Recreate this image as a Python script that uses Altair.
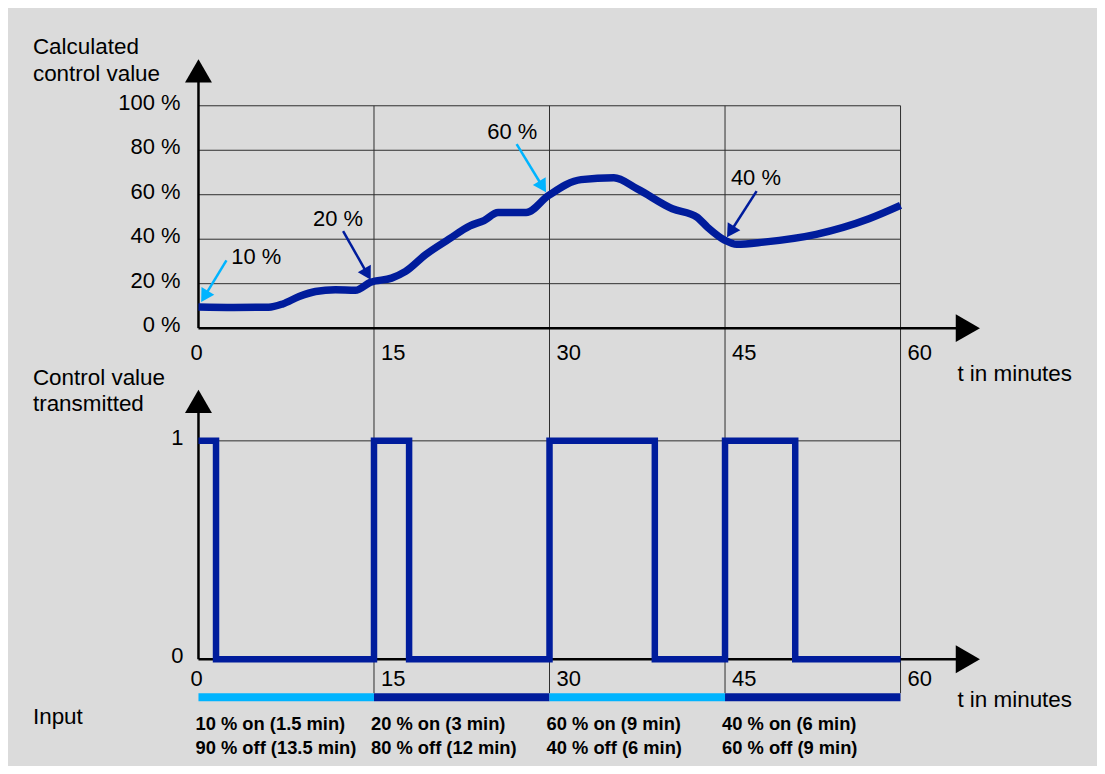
import math
import altair as alt
import pandas as pd

# ---------------- data ----------------
curve_t = [0, 3, 6, 7.2, 8.6, 10, 11.7, 13.4, 14.7, 16.5, 17.7, 19.4, 21.4, 23.2, 24.4, 25.6,
           28, 29.9, 32.7, 35.5, 37.5, 40.5, 42.6, 43.5, 45, 46, 48.3, 52.8, 57.3, 60]
curve_v = [9.5, 9.3, 9.4, 10.9, 14.2, 16.5, 17.3, 17.0, 20.6, 22.5, 25.5, 33, 40, 46, 48.4, 52,
           52, 59.6, 66.8, 67.6, 62.6, 53.7, 49.9, 45.4, 39.5, 37.7, 38.7, 42.2, 49.2, 55.2]

y_ticks = [0, 20, 40, 60, 80, 100]
x_ticks = [0, 15, 30, 45, 60]

seg_start = [0, 15, 30, 45]
seg_end = [15, 30, 45, 60]
seg_pct = [10, 20, 60, 40]
on_min = [1.5, 3, 9, 6]
off_min = [13.5, 12, 6, 9]
seg_shade = ["light", "dark", "light", "dark"]

arrow_labels = ["10 %", "20 %", "60 %", "40 %"]
arrow_from_t = [2.39, 12.36, 27.19, 47.7]
arrow_from_v = [30.5, 43.6, 82.8, 61.6]
arrow_to_t = [0.23, 14.72, 29.7, 45.17]
arrow_to_v = [11.8, 21.8, 61.1, 40.9]
label_t = [4.94, 11.93, 26.82, 47.64]
label_v = [32.1, 49.1, 88.3, 67.5]

# ---------------- layout / style ----------------
FONT = "Liberation Sans"
INK = "#000000"
GRID = "#2e2e2e"
DARK = "#001c9c"
LIGHT = "#00b4ff"
BG = "#dbdbdb"
SHADE = {"light": LIGHT, "dark": DARK}

W, H = 704, 555            # plot area: t 0..60, from 100 % line down to lower zero line
X0, Y0 = 199, 105          # page pixel of plot origin (top-left)
PX_MIN = W / 60.0
TOP_ZERO_Y = 328           # page y of 0 %
TOP_PX = (TOP_ZERO_Y - Y0) / 100.0
BOT_ZERO_Y = Y0 + H        # page y of lower 0
BOT_PX = 219.0
TOP_DOMAIN = [-(BOT_ZERO_Y - TOP_ZERO_Y) / TOP_PX, 100]
BOT_DOMAIN = [0, H / BOT_PX]

TICK_FS = 22
TITLE_FS = 22.5
ANNOT_FS = 22
INPUT_FS = 18.4
HEAD_W = 15
AX_W = 2.5


def t_at(px):
    return (px - X0) / PX_MIN


def v_at(py):
    return (TOP_ZERO_Y - py) / TOP_PX


def b_at(py):
    return (BOT_ZERO_Y - py) / BOT_PX


XS = alt.Scale(domain=[0, 60], nice=False, zero=False)
YT = alt.Scale(domain=TOP_DOMAIN, nice=False, zero=False)
YB = alt.Scale(domain=BOT_DOMAIN, nice=False, zero=False)


def X(f):
    return alt.X(f, type="quantitative", scale=XS, axis=None)


def Yt(f):
    return alt.Y(f, type="quantitative", scale=YT, axis=None)


def Yb(f):
    return alt.Y(f, type="quantitative", scale=YB, axis=None)


def texts(df, yenc, align="left", dx=0, dy=0, size=TICK_FS, weight="normal"):
    return alt.Chart(df).mark_text(font=FONT, fontSize=size, fontWeight=weight, align=align,
                                   baseline="middle", dx=dx, dy=dy, color=INK).encode(
        x=X("t"), y=yenc("y"), text="label:N")


def fmt(x):
    return f"{x:g}"


# ---------------- arrows on the curve ----------------
rows = []
for i in range(4):
    p0 = (arrow_from_t[i] * PX_MIN, -arrow_from_v[i] * TOP_PX)
    p1 = (arrow_to_t[i] * PX_MIN, -arrow_to_v[i] * TOP_PX)
    dx, dy = p1[0] - p0[0], p1[1] - p0[1]
    L = math.hypot(dx, dy)
    ux, uy = dx / L, dy / L
    ang = math.degrees(math.atan2(ux, -uy)) % 360
    hc = (p1[0] - ux * HEAD_W * 0.433, p1[1] - uy * HEAD_W * 0.433)
    rows.append({"t0": arrow_from_t[i], "v0": arrow_from_v[i],
                 "t1": hc[0] / PX_MIN, "v1": -hc[1] / TOP_PX,
                 "angle": ang, "color": SHADE[seg_shade[i]]})
arrows = pd.DataFrame(rows)

# ---------------- lower panel (drawn first) ----------------
vgrid = pd.DataFrame({"t": x_ticks[1:], "b0": BOT_DOMAIN[1], "b1": 0})
l_vgrid = alt.Chart(vgrid).mark_rule(color=GRID, strokeWidth=1, y2Offset=34).encode(
    x=X("t"), y=Yb("b0"), y2=alt.Y2("b1"))

l_hgrid_b = alt.Chart(pd.DataFrame({"b": [1]})).mark_rule(color=GRID, strokeWidth=1).encode(y=Yb("b"))

l_bax_y = alt.Chart(pd.DataFrame({"t": [0], "b0": [0], "b1": [1.13]})).mark_rule(
    color=INK, strokeWidth=AX_W).encode(x=X("t"), y=Yb("b0"), y2=alt.Y2("b1"))
l_bax_x = alt.Chart(pd.DataFrame({"t0": [0], "t1": [65], "b": [0]})).mark_rule(
    color=INK, strokeWidth=AX_W).encode(x=X("t0"), x2=alt.X2("t1"), y=Yb("b"))
l_bhead_y = alt.Chart(pd.DataFrame({"t": [0], "b": [b_at(401.5)]})).mark_point(
    shape="triangle-up", filled=True, size=729, opacity=1, color=INK, strokeWidth=0).encode(
    x=X("t"), y=Yb("b"))
l_bhead_x = alt.Chart(pd.DataFrame({"t": [t_at(970.5)], "b": [0]})).mark_point(
    shape="triangle-right", filled=True, size=784, opacity=1, color=INK, strokeWidth=0).encode(
    x=X("t"), y=Yb("b"))

pulse_t, pulse_val = [], []
for s, on in zip(seg_start, on_min):
    pulse_t += [s, s + on]
    pulse_val += [1, 0]
pulse_t.append(60)
pulse_val.append(0)
l_pulse = alt.Chart(pd.DataFrame({"t": pulse_t, "b": pulse_val})).mark_line(
    interpolate="step-after", color=DARK, strokeWidth=6.5, strokeJoin="miter").encode(
    x=X("t"), y=Yb("b"))

inp = pd.DataFrame({"t0": seg_start, "t1": seg_end, "b": 0,
                    "color": [SHADE[s] for s in seg_shade]})
l_input = alt.Chart(inp).mark_rule(strokeWidth=8, yOffset=38).encode(
    x=X("t0"), x2=alt.X2("t1"), y=Yb("b"), color=alt.Color("color:N", scale=None))

line1 = pd.DataFrame({"t": seg_start, "y": b_at(725),
                      "label": [f"{p} % on ({fmt(o)} min)" for p, o in zip(seg_pct, on_min)]})
line2 = pd.DataFrame({"t": seg_start, "y": b_at(749),
                      "label": [f"{100 - p} % off ({fmt(o)} min)" for p, o in zip(seg_pct, off_min)]})
l_in1 = texts(line1, Yb, dx=-3, size=INPUT_FS, weight="bold")
l_in2 = texts(line2, Yb, dx=-3, size=INPUT_FS, weight="bold")

bt = pd.DataFrame({"t": x_ticks, "y": b_at(680), "label": [str(x) for x in x_ticks]})
l_bt0 = texts(bt.iloc[:1], Yb, align="center", dx=-2)
l_bt = texts(bt.iloc[1:], Yb, align="left", dx=7)
byl = pd.DataFrame({"t": [0, 0], "y": [1, 0], "label": ["1", "0"]})
l_byl = texts(byl, Yb, align="right", dx=-15, dy=-3)
btitles = pd.DataFrame({"t": [t_at(33)] * 3 + [t_at(960)],
                        "y": [b_at(378), b_at(404), b_at(718), b_at(701)],
                        "label": ["Control value", "transmitted", "Input", "t in minutes"]})
l_btitles = texts(btitles, Yb, size=TITLE_FS)

bottom = alt.layer(l_vgrid, l_hgrid_b, l_bax_x, l_bax_y, l_bhead_y, l_bhead_x, l_pulse, l_input,
                   l_in1, l_in2, l_bt0, l_bt, l_byl, l_btitles)

# ---------------- upper panel ----------------
t_hgrid = alt.Chart(pd.DataFrame({"v": y_ticks[1:]})).mark_rule(color=GRID, strokeWidth=1).encode(y=Yt("v"))
t_ax_y = alt.Chart(pd.DataFrame({"t": [0], "v0": [0], "v1": [112]})).mark_rule(
    color=INK, strokeWidth=AX_W).encode(x=X("t"), y=Yt("v0"), y2=alt.Y2("v1"))
t_ax_x = alt.Chart(pd.DataFrame({"t0": [0], "t1": [65], "v": [0]})).mark_rule(
    color=INK, strokeWidth=AX_W).encode(x=X("t0"), x2=alt.X2("t1"), y=Yt("v"))
t_head_y = alt.Chart(pd.DataFrame({"t": [0], "v": [v_at(70)]})).mark_point(
    shape="triangle-up", filled=True, size=729, opacity=1, color=INK, strokeWidth=0).encode(
    x=X("t"), y=Yt("v"))
t_head_x = alt.Chart(pd.DataFrame({"t": [t_at(970.5)], "v": [0]})).mark_point(
    shape="triangle-right", filled=True, size=784, opacity=1, color=INK, strokeWidth=0).encode(
    x=X("t"), y=Yt("v"))

t_curve = alt.Chart(pd.DataFrame({"t": curve_t, "v": curve_v})).mark_line(
    interpolate="monotone", color=DARK, strokeWidth=7.5).encode(x=X("t"), y=Yt("v"))

t_ashaft = alt.Chart(arrows).mark_rule(strokeWidth=2.5).encode(
    x=X("t0"), y=Yt("v0"), x2=alt.X2("t1"), y2=alt.Y2("v1"), color=alt.Color("color:N", scale=None))
t_ahead = alt.Chart(arrows).mark_point(shape="triangle-up", filled=True, size=HEAD_W ** 2,
                                       opacity=1, strokeWidth=0).encode(
    x=X("t1"), y=Yt("v1"), color=alt.Color("color:N", scale=None),
    angle=alt.Angle("angle:Q", scale=None))

alabels = pd.DataFrame({"t": label_t, "y": label_v, "label": arrow_labels})
t_alabels = texts(alabels, Yt, align="center", size=ANNOT_FS)

yl = pd.DataFrame({"t": 0, "y": y_ticks, "label": [f"{v} %" for v in y_ticks]})
t_yl = texts(yl, Yt, align="right", dx=-18, dy=-3)
xt = pd.DataFrame({"t": x_ticks, "y": v_at(353), "label": [str(x) for x in x_ticks]})
t_xt0 = texts(xt.iloc[:1], Yt, align="center", dx=-2)
t_xt = texts(xt.iloc[1:], Yt, align="left", dx=7)
ttitles = pd.DataFrame({"t": [t_at(33), t_at(33), t_at(960)],
                        "y": [v_at(46), v_at(73), v_at(374)],
                        "label": ["Calculated", "control value", "t in minutes"]})
t_titles = texts(ttitles, Yt, size=TITLE_FS)

top = alt.layer(t_hgrid, t_ax_x, t_ax_y, t_head_y, t_head_x, t_curve, t_ashaft, t_ahead,
                t_alabels, t_yl, t_xt0, t_xt, t_titles)

chart = alt.layer(bottom, top).resolve_scale(y="independent").properties(
    width=W, height=H,
    autosize=alt.AutoSizeParams(type="none"),
    padding={"left": X0 - 8, "top": Y0 - 8, "right": 1100 - (X0 + W), "bottom": 106},
    background=BG,
).configure_view(stroke=None)

chart.save("out.html", embed_options={"renderer": "svg", "actions": False})
